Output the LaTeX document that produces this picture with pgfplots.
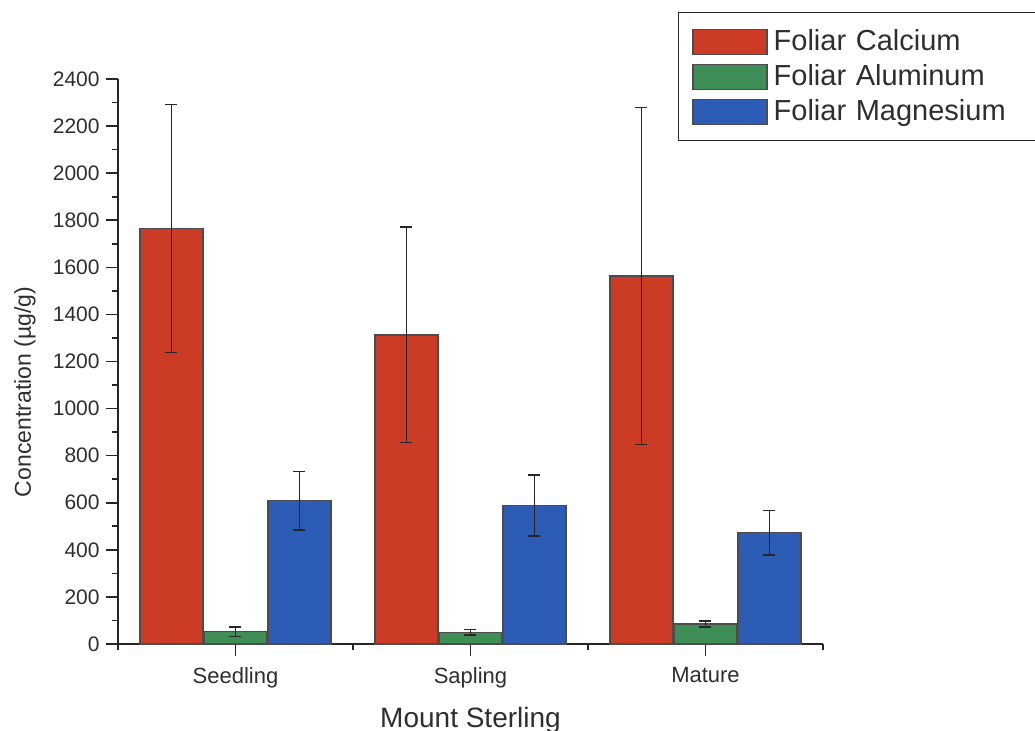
\documentclass[border=0pt]{standalone}
\usepackage{pgfplots}
\pgfplotsset{compat=1.18}
\usepackage{fontspec}
\setmainfont{Liberation Sans}
\definecolor{caC}{HTML}{CC3B25}
\definecolor{alC}{HTML}{3F8E57}
\definecolor{mgC}{HTML}{2D5CB6}
\definecolor{txt}{HTML}{2E2E2E}
\begin{document}
\begin{tikzpicture}
\useasboundingbox (0,0) rectangle (517.5pt,365pt);
\begin{axis}[
  at={(59pt,43pt)}, anchor=south west,
  scale only axis, width=352.5pt, height=282.5pt,
  xmin=-0.5, xmax=2.5, ymin=0, ymax=2400,
  axis lines=left, axis line style={-, line width=0.9pt, black!85},
  ybar=0.5pt, bar width=31.5pt,
  xtick={0,1,2},
  xticklabels={Seedling,Sapling,Mature},
  minor xtick={-0.5,0.5,1.5,2.5},
  ytick={0,200,...,2400},
  minor ytick={100,300,...,2300},
  tick align=outside,
  major tick length=6pt, minor tick length=3pt,
  tick style={line width=0.8pt, black!85},
  x tick label style={font=\fontsize{11}{13}\selectfont, text=txt, yshift=-2pt},
  y tick label style={font=\fontsize{10.5}{12}\selectfont, text=txt, inner sep=1pt, xshift=-2pt},
  /pgf/number format/assume math mode=true,
  scaled y ticks=false,
  yticklabel={\pgfmathprintnumber[fixed,precision=0,set thousands separator={}]{\tick}},
  xlabel={Mount Sterling},
  ylabel={Concentration (µg/g)},
  xlabel style={font=\fontsize{14}{16}\selectfont, text=txt, at={(axis description cs:0.5,-0.147)}, anchor=base},
  ylabel style={font=\fontsize{11.5}{14}\selectfont, text=txt, at={(axis description cs:-0.132,0.446)}, anchor=center},
  legend style={at={(0.794,1.1186)}, anchor=north west, draw=black!85, line width=0.7pt,
    font=\fontsize{14.5}{17}\selectfont, text=txt, row sep=1.5pt,
    nodes={text width=175pt, inner xsep=3pt}, inner ysep=6.5pt, inner xsep=7pt},
  legend cell align=left,
  legend image code/.code={\draw[#1, draw=black!70, line width=0.6pt] (0pt,-6.25pt) rectangle (37pt,6.25pt);},
  error bars/y dir=both, error bars/y explicit,
  error bars/error bar style={line width=0.75pt, black!85},
  error bars/error mark options={line width=0.75pt, black!85, mark size=3pt, rotate=90},
]
\addplot[fill=caC, draw=black!70, line width=0.6pt] coordinates {
  (0,1765) +- (0,527)
  (1,1313) +- (0,458)
  (2,1563) +- (0,715)
};
\addplot[fill=alC, draw=black!70, line width=0.6pt] coordinates {
  (0,52) +- (0,21)
  (1,50) +- (0,12)
  (2,85) +- (0,12)
};
\addplot[fill=mgC, draw=black!70, line width=0.6pt] coordinates {
  (0,609) +- (0,124)
  (1,588) +- (0,130)
  (2,473) +- (0,95)
};
\legend{Foliar Calcium, Foliar Aluminum, Foliar Magnesium}
\end{axis}
\end{tikzpicture}
\end{document}
